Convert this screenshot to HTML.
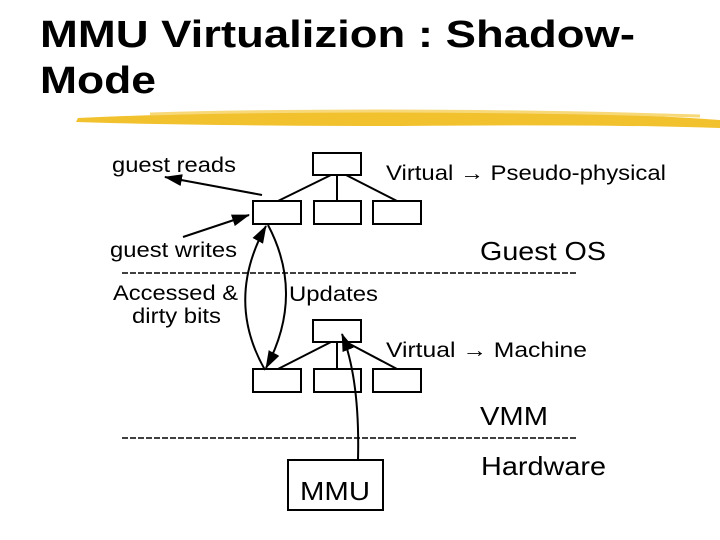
<!DOCTYPE html>
<html><head><style>body{margin:0;background:#fff}svg{display:block}</style></head><body>
<svg width="720" height="540" viewBox="0 0 720 540" xmlns="http://www.w3.org/2000/svg" font-family="Liberation Sans, sans-serif">
<defs>
<marker id="b" markerWidth="18" markerHeight="12" refX="17" refY="6" orient="auto" markerUnits="userSpaceOnUse"><path d="M0,0 L18,6 L0,12z"/></marker>
</defs>
<text x="40" y="47" font-size="38" font-weight="bold" textLength="595" lengthAdjust="spacingAndGlyphs">MMU Virtualizion : Shadow-</text>
<text x="40" y="93" font-size="38" font-weight="bold" textLength="116" lengthAdjust="spacingAndGlyphs">Mode</text>
<path d="M78,118 Q300,108 520,112 Q640,114 720,120 L720,128 Q600,124 400,126 Q200,126 76,122 Z" fill="#f2c12e"/>
<path d="M150,114 Q400,107 700,116" stroke="#f7d97a" stroke-width="3" fill="none"/>
<g fill="#fff" stroke="#000" stroke-width="2">
<rect x="313" y="153" width="48" height="22"/>
<rect x="253" y="201" width="48" height="23"/><rect x="314" y="201" width="47" height="23"/><rect x="373" y="201" width="48" height="23"/>
<rect x="313" y="320" width="48" height="22"/>
<rect x="253" y="369" width="48" height="23"/><rect x="314" y="369" width="47" height="23"/><rect x="373" y="369" width="48" height="23"/>
<rect x="288" y="460" width="95" height="50"/>
</g>
<g stroke="#000" stroke-width="2" fill="none">
<path d="M331,175 L278,201 M337,175 L337,201 M346,175 L397,201"/>
<path d="M331,342 L278,369 M337,342 L337,369 M346,342 L397,369"/>
<path d="M262,195 L165,177" marker-end="url(#b)"/>
<path d="M183,237 L249,215" marker-end="url(#b)"/>
<path d="M265,370 Q225,300 266,226" marker-end="url(#b)"/>
<path d="M268,225 Q305,295 266,368" marker-end="url(#b)"/>
<path d="M358,460 Q360,380 342,334" marker-end="url(#b)"/>
<path d="M122,273 L576,273 M122,438 L576,438" stroke-width="1.5" stroke-dasharray="6,2"/>
</g>
<g font-size="21">
<text x="112" y="172" textLength="124" lengthAdjust="spacingAndGlyphs">guest reads</text>
<text x="386" y="180" textLength="280" lengthAdjust="spacingAndGlyphs">Virtual → Pseudo-physical</text>
<text x="110" y="257" textLength="127" lengthAdjust="spacingAndGlyphs">guest writes</text>
<text x="113" y="300" textLength="125" lengthAdjust="spacingAndGlyphs">Accessed &amp;</text>
<text x="132" y="323" textLength="89" lengthAdjust="spacingAndGlyphs">dirty bits</text>
<text x="289" y="301" textLength="89" lengthAdjust="spacingAndGlyphs">Updates</text>
<text x="386" y="357" textLength="201" lengthAdjust="spacingAndGlyphs">Virtual →  Machine</text>
</g>
<g font-size="26">
<text x="480" y="260" textLength="126" lengthAdjust="spacingAndGlyphs">Guest OS</text>
<text x="480" y="425" textLength="68" lengthAdjust="spacingAndGlyphs">VMM</text>
<text x="481" y="475" textLength="125" lengthAdjust="spacingAndGlyphs">Hardware</text>
<text x="300" y="500" textLength="70" lengthAdjust="spacingAndGlyphs">MMU</text>
</g>
</svg>
</body></html>
